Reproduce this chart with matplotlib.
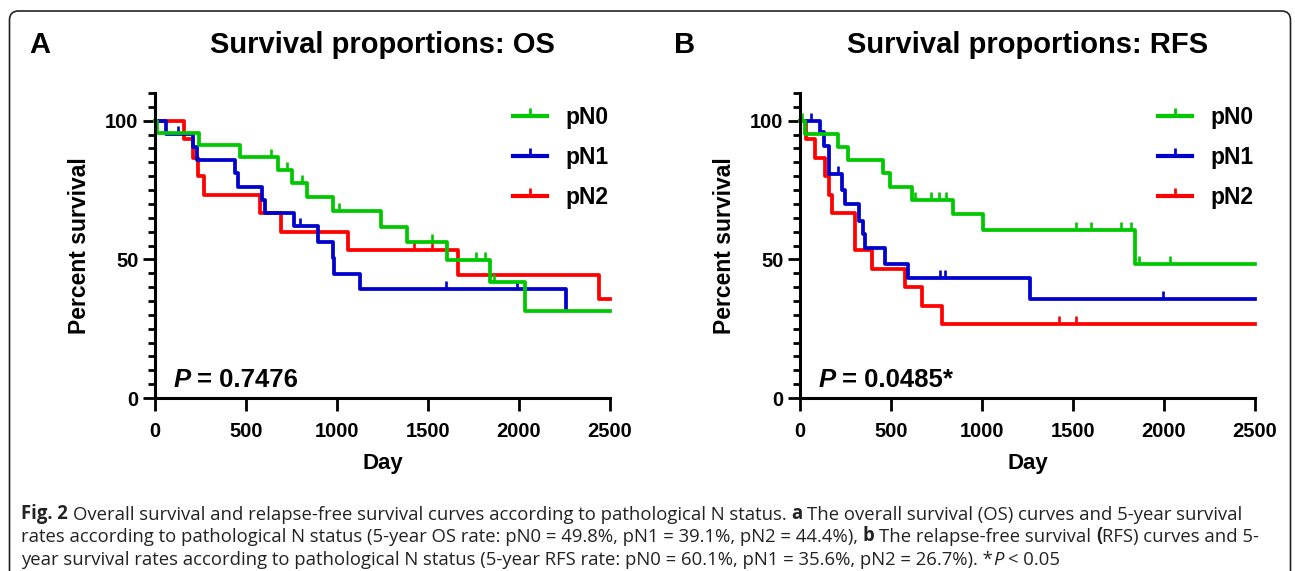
import numpy as np
import matplotlib
matplotlib.use("Agg")
import matplotlib.pyplot as plt
from matplotlib.lines import Line2D
from matplotlib.patches import FancyBboxPatch
from matplotlib.text import Annotation
from matplotlib.transforms import IdentityTransform


##########################################################

# data (day, percent survival at each step, censored days)

groups = ["pN0", "pN1", "pN2"]
colors = {"pN0": "#00c800", "pN1": "#0000cc", "pN2": "#ff0000"}

# overall survival
os_pn0_t = [0, 13, 240, 467, 678, 751, 833, 980, 1240, 1382, 1603, 1841, 2033, 2500]
os_pn0_s = [100, 95.7, 91.3, 86.9, 82.4, 77.6, 72.4, 67.4, 61.8, 56.3, 49.7, 41.7, 31.4, 31.4]
os_pn0_c = [637, 724, 806, 1013, 1520, 1762, 1815, 1862]

os_pn1_t = [0, 59, 211, 229, 440, 458, 586, 604, 766, 894, 976, 985, 1126, 2257]
os_pn1_s = [100, 95.2, 90.5, 85.7, 81.0, 76.2, 71.4, 66.7, 61.9, 56.3, 50.6, 44.9, 39.2, 32.0]
os_pn1_c = [125, 797, 1599, 1990]

os_pn2_t = [0, 161, 207, 238, 271, 577, 692, 1062, 1667, 2440, 2500]
os_pn2_s = [100, 93.3, 86.7, 80.0, 73.3, 66.7, 60.0, 53.3, 44.4, 35.6, 35.6]
os_pn2_c = [1425, 1520]

# relapse-free survival
rfs_pn0_t = [0, 27, 211, 262, 458, 495, 614, 843, 1007, 1841, 2500]
rfs_pn0_s = [100, 95.2, 90.5, 85.7, 81.0, 76.2, 71.4, 66.3, 60.7, 48.5, 48.5]
rfs_pn0_c = [12, 632, 718, 764, 802, 1517, 1597, 1762, 1817, 1863, 2033]

rfs_pn1_t = [0, 110, 134, 161, 229, 247, 326, 348, 357, 467, 595, 1264, 2500]
rfs_pn1_s = [100, 96.0, 91.0, 80.8, 74.9, 69.9, 64.0, 59.0, 54.0, 48.3, 43.2, 35.6, 35.6]
rfs_pn1_c = [60, 211, 769, 797, 1993]

rfs_pn2_t = [0, 33, 82, 137, 161, 174, 302, 394, 577, 672, 782, 2500]
rfs_pn2_s = [100, 93.3, 86.7, 80.0, 73.3, 66.7, 53.3, 46.7, 40.0, 33.3, 26.7, 26.7]
rfs_pn2_c = [1425, 1517]

p_os = "0.7476"
p_rfs = "0.0485*"

x_ticks = [0, 500, 1000, 1500, 2000, 2500]
y_ticks = [0, 50, 100]


############################################################

plt.rcParams["font.family"] = ["Liberation Sans", "DejaVu Sans"]
plt.rcParams["font.weight"] = "bold"

W, H = 1295, 571
fig = plt.figure(figsize=(W / 100, H / 100), dpi=100)

# rounded frame round the whole figure (bottom edge is cut off)
frame = FancyBboxPatch((9.5, -30), 1281, 560 + 30, boxstyle="round,pad=0,rounding_size=9",
                       transform=IdentityTransform(), fill=False, lw=1.2, ec="#222222")
fig.patches.append(frame)


def km_curve(ax, t, s, cens, color):
    ax.step(t, s, where="post", color=color, lw=2.7, clip_on=False)
    t = np.asarray(t)
    s = np.asarray(s)
    idx = np.searchsorted(t, cens, side="right") - 1
    ax.plot(cens, s[idx], ls="none", marker=2, ms=5.5, mew=1.9, color=color, clip_on=False)


def panel(left, letter, title, curves, pval):
    ax = fig.add_axes([left / W, (H - 398) / H, 455 / W, 305 / H])
    for g in ["pN2", "pN1", "pN0"]:
        t, s, c = curves[g]
        km_curve(ax, t, s, c, colors[g])

    ax.set_xlim(0, 2500)
    ax.set_ylim(0, 110)
    ax.set_xticks(x_ticks)
    ax.set_yticks(y_ticks)
    ax.set_yticks([v for v in range(5, 111, 5) if v not in y_ticks], minor=True)
    for side in ["top", "right"]:
        ax.spines[side].set_visible(False)
    for side in ["left", "bottom"]:
        ax.spines[side].set_linewidth(2.2)
    ax.tick_params(axis="both", which="major", direction="out", length=9, width=2.0,
                   labelsize=14.5)
    ax.tick_params(axis="x", which="major", pad=8)
    ax.tick_params(axis="y", which="major", pad=3)
    ax.tick_params(axis="y", which="minor", direction="out", length=5, width=2.0)

    ax.set_xlabel("Day", fontsize=16, fontweight="bold", va="baseline")
    ax.xaxis.set_label_coords(0.5, -0.233)
    ax.set_ylabel("Percent survival", fontsize=16.5, fontweight="bold", va="center")
    ax.yaxis.set_label_coords(-0.167, 0.5)

    ax.text(0.5, 1.131, title, transform=ax.transAxes, ha="center", va="baseline",
            fontsize=21, fontweight="bold")
    fig.text((left - 126) / W, (H - 53) / H, letter, ha="left", va="baseline",
             fontsize=21, fontweight="bold")

    handles = [Line2D([], [], color=colors[g], lw=3, marker=2, ms=6, mew=2) for g in groups]
    ax.legend(handles, groups, loc="upper left", bbox_to_anchor=(0.787, 0.957),
              frameon=False, handlelength=1.5, handletextpad=0.8, labelspacing=0.75,
              borderpad=0, borderaxespad=0, numpoints=1,
              prop={"size": 16.5, "weight": "bold"})

    tp = ax.text(0.04, 0.036, "P", transform=ax.transAxes, fontsize=18.5,
                 fontweight="bold", style="italic", va="baseline")
    ax.annotate("= " + pval, xy=(1, 0), xycoords=tp, xytext=(5, 0),
                textcoords="offset points", fontsize=18.5, fontweight="bold", va="bottom")
    return ax


panel(155, "A", "Survival proportions: OS",
      {"pN0": (os_pn0_t, os_pn0_s, os_pn0_c),
       "pN1": (os_pn1_t, os_pn1_s, os_pn1_c),
       "pN2": (os_pn2_t, os_pn2_s, os_pn2_c)}, p_os)

panel(800, "B", "Survival proportions: RFS",
      {"pN0": (rfs_pn0_t, rfs_pn0_s, rfs_pn0_c),
       "pN1": (rfs_pn1_t, rfs_pn1_s, rfs_pn1_c),
       "pN2": (rfs_pn2_t, rfs_pn2_s, rfs_pn2_c)}, p_rfs)


############################################################

# caption, written run by run so bold / italic words sit inline

cap_size = 13.35
cap_font = ["Open Sans", "DejaVu Sans"]

caption_lines = [
    [("Fig. 2", "bold", "normal"),
     (" Overall survival and relapse-free survival curves according to pathological N status.", "normal", "normal"),
     (" a", "bold", "normal"),
     (" The overall survival (OS) curves and 5-year survival", "normal", "normal")],
    [("rates according to pathological N status (5-year OS rate: pN0 = 49.8%, pN1 = 39.1%, pN2 = 44.4%),", "normal", "normal"),
     (" b", "bold", "normal"),
     (" The relapse-free survival", "normal", "normal"),
     (" (", "bold", "normal"),
     ("RFS) curves and 5-", "normal", "normal")],
    [("year survival rates according to pathological N status (5-year RFS rate: pN0 = 60.1%, pN1 = 35.6%, pN2 = 26.7%). *", "normal", "normal"),
     ("P", "normal", "italic"),
     (" < 0.05", "normal", "normal")],
]
caption_base = [519, 542, 565]

for line, yb in zip(caption_lines, caption_base):
    prev = None
    for txt, weight, style in line:
        gap = 0.0
        if txt.startswith(" "):
            gap = 0.26 * cap_size
            txt = txt.lstrip(" ")
        kw = dict(fontsize=cap_size, fontweight=weight, style=style, family=cap_font, color="#222222")
        if prev is None:
            prev = fig.text(21 / W, (H - yb) / H, txt, ha="left", va="baseline", **kw)
        else:
            a = Annotation(txt, xy=(1, 0), xycoords=prev, xytext=(gap, 0),
                           textcoords="offset points", ha="left", va="bottom", **kw)
            fig.add_artist(a)
            prev = a

fig.savefig("out.png", dpi=100)
